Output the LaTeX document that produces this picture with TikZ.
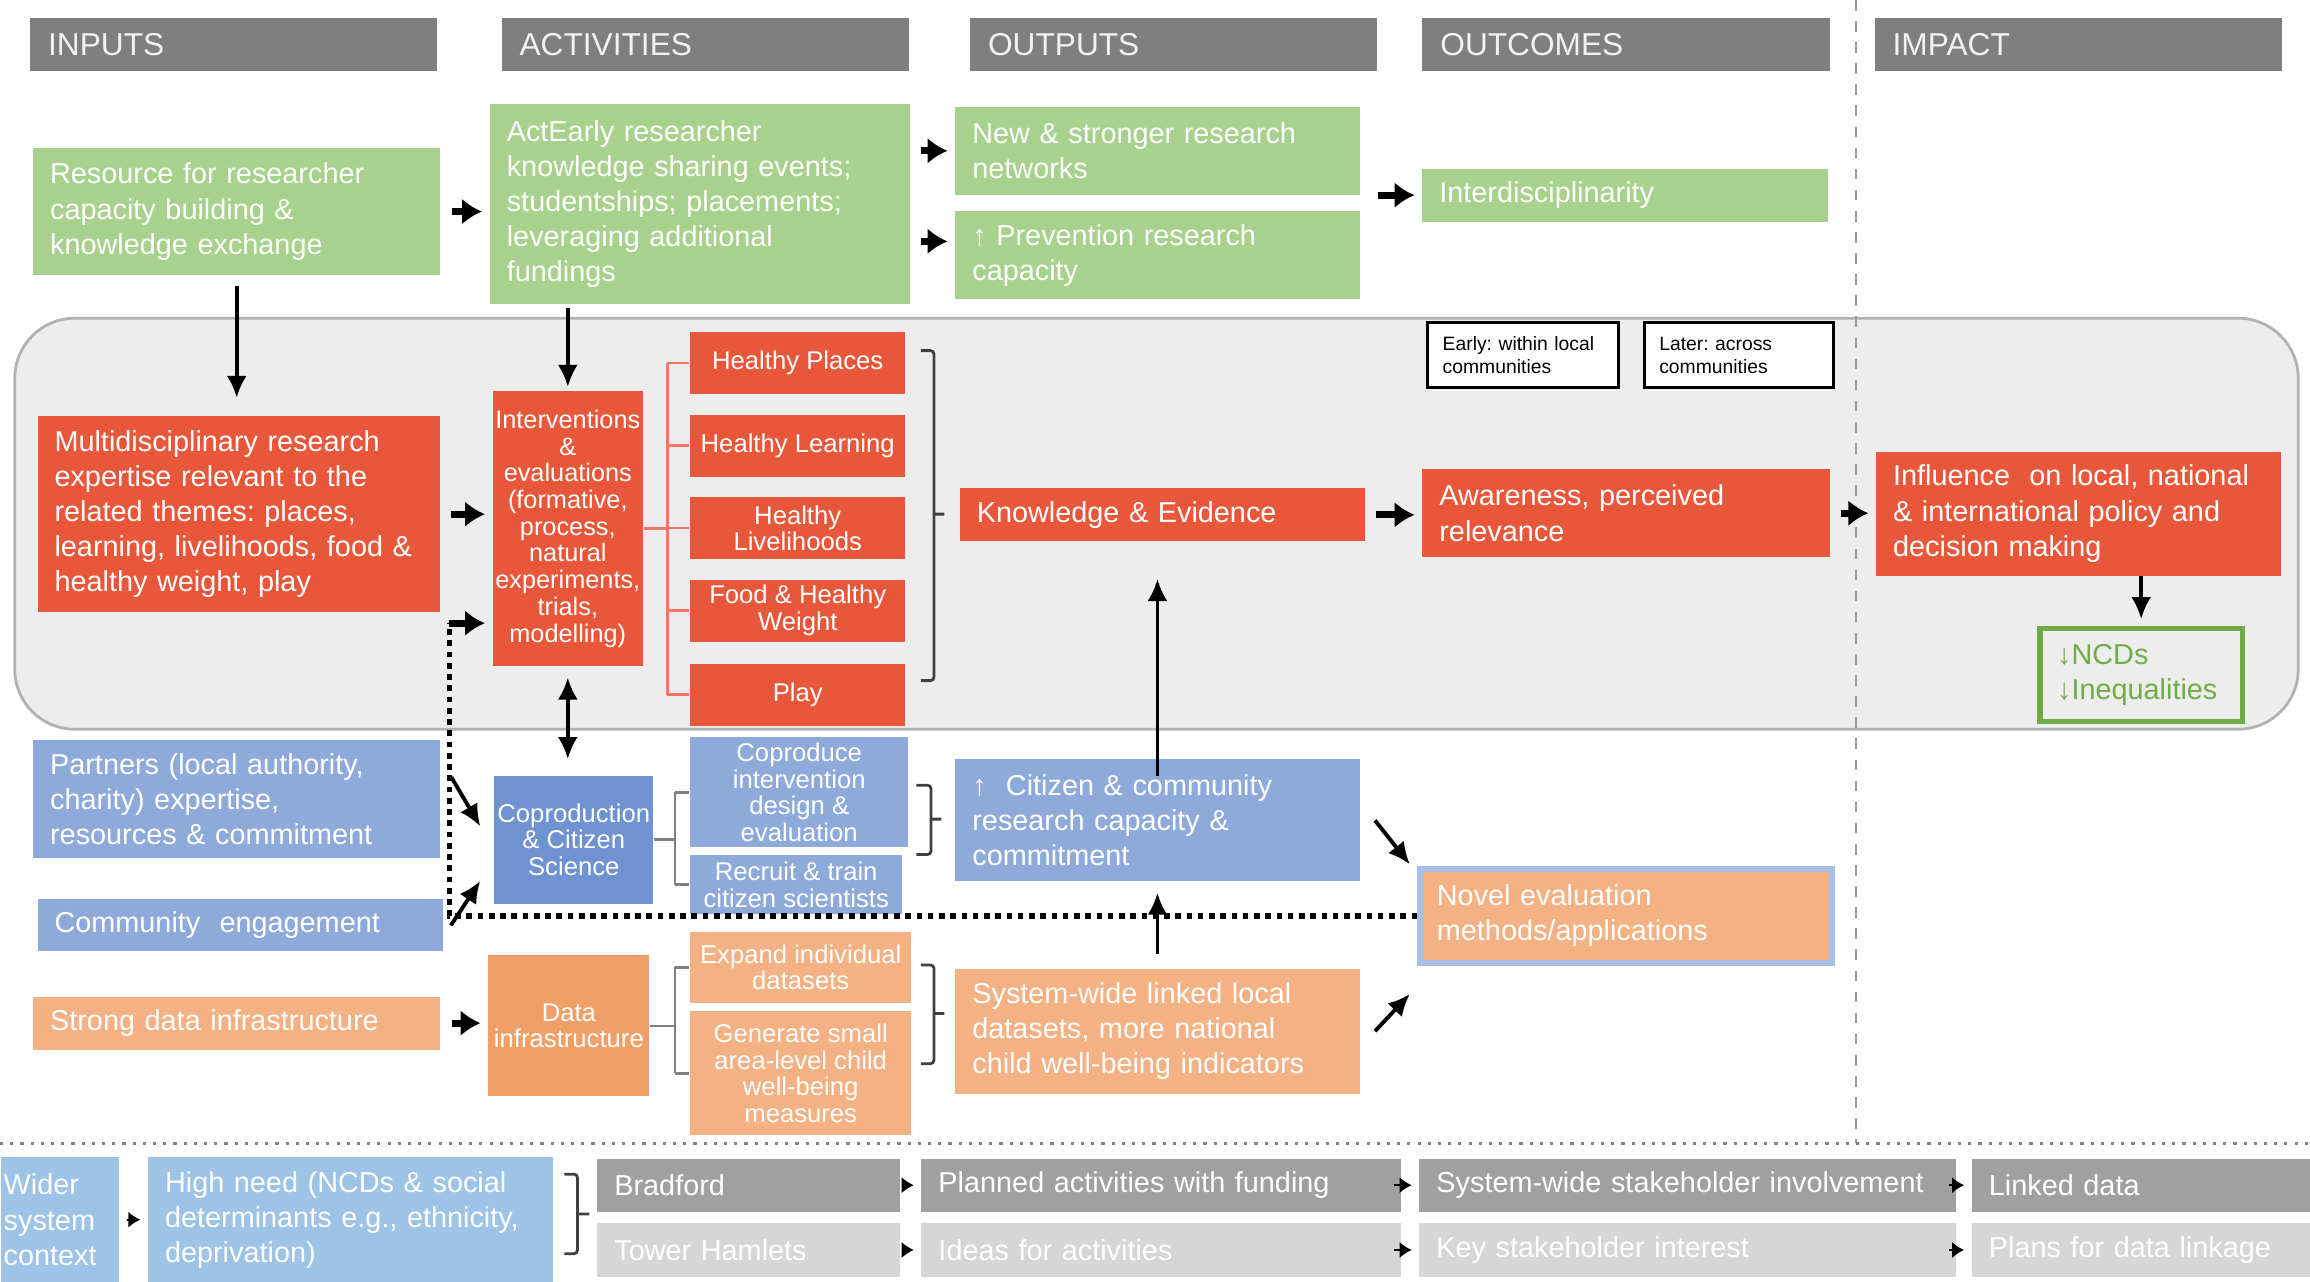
\documentclass[tikz,border=0pt]{standalone}
\usepackage{fontspec}
\setmainfont{Liberation Sans}
\usepackage{tikz}
\usetikzlibrary{arrows.meta}
\usepackage{xcolor}

\definecolor{hdrgray}{HTML}{7F7F7F}
\definecolor{grnfill}{HTML}{A9D18E}
\definecolor{redfill}{HTML}{E9573A}
\definecolor{bluefill}{HTML}{8EAADB}
\definecolor{copfill}{HTML}{6F93D1}
\definecolor{orgfill}{HTML}{F4B183}
\definecolor{datfill}{HTML}{F0A066}
\definecolor{ctxfill}{HTML}{9DC3E6}
\definecolor{darkrow}{HTML}{A0A0A0}
\definecolor{lightrow}{HTML}{D6D6D6}
\definecolor{regfill}{HTML}{EDEDED}
\definecolor{ncdgreen}{HTML}{70AD47}
\definecolor{novelblue}{HTML}{A9C0E6}

\frenchspacing

\begin{document}
\begin{tikzpicture}[x=0.01473cm, y=-0.01473cm,
box/.style={anchor=north west, inner xsep=0.17cm, inner ysep=0pt, text=white, align=left, font=\fontsize{8.2}{10}\selectfont},
cbox/.style={anchor=north west, inner sep=0pt, text=white, align=center, font=\fontsize{7.3}{7.6}\selectfont},
hdr/.style={box, fill=hdrgray, inner xsep=0.18cm, text=white!95!black, minimum height=0.53cm, text width=3.71cm, font=\fontsize{9}{10}\selectfont},
grn/.style={box, fill=grnfill},
red/.style={box, fill=redfill},
redc/.style={cbox, fill=redfill},
blu/.style={box, fill=bluefill},
bluc/.style={cbox, fill=bluefill},
org/.style={box, fill=orgfill},
orgc/.style={cbox, fill=orgfill},
note/.style={anchor=north west, draw=black, line width=0.9pt, fill=white, text=black, align=left, inner xsep=0.15cm, inner ysep=0pt, font=\fontsize{5.5}{6.5}\selectfont},
arr/.style={-{Latex[length=2.2mm,width=2mm]}, line width=1.1pt},
sarr/.style={-{Latex[length=2mm,width=2.6mm]}, line width=2pt, shorten <=3pt, shorten >=2pt},
tarr/.style={-{Latex[length=1.2mm,width=1.6mm]}, line width=0.5pt, shorten <=2pt, shorten >=2pt},
brk/.style={line width=0.7pt, draw=gray},
redbrk/.style={line width=0.7pt, draw=redfill!80!white},
brc/.style={line width=0.8pt, draw=black!75, rounded corners=1pt},
dotln/.style={line width=1.6pt, dash pattern=on 1.6pt off 1.6pt}]

\useasboundingbox (0,0) rectangle (1568,870);

\draw[fill=regfill, draw=gray!60, line width=0.8pt, rounded corners=0.6cm] (10,216) rectangle (1560,495);

\draw[gray!80, dashed, line width=0.6pt] (1260,0) -- (1260,776);

\draw[gray, dotted, line width=0.9pt] (0,776) -- (1568,776);

\node[hdr] (hin) at (20,12) {INPUTS};
\node[hdr] (hact) at (340,12) {ACTIVITIES};
\node[hdr] (hout) at (658,12) {OUTPUTS};
\node[hdr] (hoc) at (965,12) {OUTCOMES};
\node[hdr] (himp) at (1272,12) {IMPACT};

\node[grn] (res) at (22,100) [text width=3.73cm, minimum height=1.27cm] {Resource for researcher\\capacity building \&\\knowledge exchange};
\node[grn] (act) at (332,70) [text width=3.86cm, minimum height=2cm] {ActEarly researcher\\knowledge sharing events;\\studentships; placements;\\leveraging additional\\fundings};
\node[grn] (new) at (648,72) [text width=3.7cm, minimum height=0.88cm] {New \& stronger research\\networks};
\node[grn] (prev) at (648,143) [text width=3.7cm, minimum height=0.88cm] {↑ Prevention research\\capacity};
\node[grn] (intd) at (965,114) [text width=3.71cm, minimum height=0.53cm] {Interdisciplinarity};

\node[red] (multi) at (25,282) [text width=3.68cm, minimum height=1.96cm] {Multidisciplinary research\\expertise relevant to the\\related themes: places,\\learning, livelihoods, food \&\\healthy weight, play};
\node[redc] (intv) at (334,265) [minimum width=1.5cm, minimum height=2.75cm, font=\fontsize{7.2}{7.6}\selectfont] {Interventions\\\&\\evaluations\\(formative,\\process,\\natural\\experiments,\\trials,\\modelling)};
\node[redc] (hp) at (468,225) [minimum width=2.15cm, minimum height=0.62cm] {Healthy Places};
\node[redc] (hl) at (468,281) [minimum width=2.15cm, minimum height=0.62cm] {Healthy Learning};
\node[redc] (hlv) at (468,337) [minimum width=2.15cm, minimum height=0.62cm] {Healthy\\Livelihoods};
\node[redc] (fhw) at (468,393) [minimum width=2.15cm, minimum height=0.62cm] {Food \& Healthy\\Weight};
\node[redc] (pl) at (468,450) [minimum width=2.15cm, minimum height=0.62cm] {Play};
\node[red] (know) at (651,331) [text width=3.71cm, minimum height=0.53cm] {Knowledge \& Evidence};
\node[red] (aware) at (965,318) [text width=3.73cm, minimum height=0.88cm] {Awareness, perceived\\relevance};
\node[red] (infl) at (1273,306) [text width=3.71cm, minimum height=1.24cm] {Influence\ \ on local, national\\\& international policy and\\decision making};

\node[note] (early) at (968,218) [text width=1.61cm, minimum height=0.65cm] {Early: within local\\communities};
\node[note] (later) at (1115,218) [text width=1.59cm, minimum height=0.65cm] {Later: across\\communities};

\node[box] (ncds) at (1383,425) [draw=ncdgreen, line width=1.5pt, fill=regfill, text=ncdgreen, text width=1.68cm, minimum height=0.93cm] {↓NCDs\\↓Inequalities};

\node[blu] (partners) at (22,502) [text width=3.73cm, minimum height=1.18cm] {Partners (local authority,\\charity) expertise,\\resources \& commitment};
\node[blu] (comm) at (25,610) [text width=3.71cm, minimum height=0.52cm] {Community\ \ engagement};
\node[cbox] (copro) at (335,526) [fill=copfill, minimum width=1.59cm, minimum height=1.28cm] {Coproduction\\\& Citizen\\Science};
\node[bluc] (coprod) at (468,500) [minimum width=2.18cm, minimum height=1.1cm] {Coproduce\\intervention\\design \&\\evaluation};
\node[bluc] (recruit) at (468,580) [minimum width=2.12cm, minimum height=0.59cm] {Recruit \& train\\citizen scientists};
\node[blu] (cit) at (648,515) [text width=3.7cm, minimum height=1.22cm] {↑\ \ Citizen \& community\\research capacity \&\\commitment};
\node[org] (novel) at (962,588) [draw=novelblue, line width=1.5pt, text width=3.78cm, minimum height=0.94cm] {Novel evaluation\\methods/applications};

\node[org] (strong) at (22,676) [text width=3.73cm, minimum height=0.53cm] {Strong data infrastructure};
\node[cbox] (data) at (331,648) [fill=datfill, minimum width=1.61cm, minimum height=1.41cm] {Data\\infrastructure};
\node[orgc] (expand) at (468,632) [minimum width=2.21cm, minimum height=0.71cm] {Expand individual\\datasets};
\node[orgc] (gen) at (468,686) [minimum width=2.21cm, minimum height=1.24cm] {Generate small\\area-level child\\well-being\\measures};
\node[org] (sys) at (648,657) [text width=3.7cm, minimum height=1.25cm] {System-wide linked local\\datasets, more national\\child well-being indicators};

\node[box] (wider) at (0,785) [fill=ctxfill, inner xsep=0.03cm, text width=1.12cm, minimum height=1.25cm] {Wider\\system\\context};
\node[box] (high) at (100,785) [fill=ctxfill, text width=3.71cm, minimum height=1.25cm] {High need (NCDs \& social\\determinants e.g., ethnicity,\\deprivation)};
\node[box] (brad) at (405,786) [fill=darkrow, text width=2.68cm, minimum height=0.53cm] {Bradford};
\node[box] (tower) at (405,830) [fill=lightrow, text width=2.68cm, minimum height=0.53cm] {Tower Hamlets};
\node[box] (plan) at (625,786) [fill=darkrow, text width=4.45cm, minimum height=0.53cm] {Planned activities with funding};
\node[box] (idea) at (625,830) [fill=lightrow, text width=4.45cm, minimum height=0.53cm] {Ideas for activities};
\node[box] (sws) at (963,786) [fill=darkrow, text width=5.02cm, minimum height=0.53cm] {\mbox{System-wide stakeholder involvement}};
\node[box] (key) at (963,830) [fill=lightrow, text width=5.02cm, minimum height=0.53cm] {Key stakeholder interest};
\node[box] (linked) at (1338,786) [fill=darkrow, text width=3.05cm, minimum height=0.53cm] {Linked data};
\node[box] (plans) at (1338,830) [fill=lightrow, text width=3.05cm, minimum height=0.53cm] {Plans for data linkage};

\coordinate (tb) at (453,0);
\coordinate (cb) at (458,0);
\coordinate (dt) at (305,423);

\draw[redbrk] (intv.east) -- (intv.east -| tb);
\draw[redbrk] (hp.west -| tb) -- (pl.west -| tb);
\foreach \t in {hp,hl,hlv,fhw,pl} \draw[redbrk] (\t.west -| tb) -- (\t.west);

\draw[brk] (copro.east) -- (copro.east -| cb);
\draw[brk] (coprod.west -| cb) -- (recruit.west -| cb);
\foreach \t in {coprod,recruit} \draw[brk] (\t.west -| cb) -- (\t.west);

\draw[brk] (data.east) -- (data.east -| cb);
\draw[brk] (expand.west -| cb) -- (gen.west -| cb);
\foreach \t in {expand,gen} \draw[brk] (\t.west -| cb) -- (\t.west);

\draw[brc] (625,238) -- (634,238) -- (634,462) -- (625,462) (634,349) -- (641,349);
\draw[brc] (622,533) -- (632,533) -- (632,580) -- (622,580) (632,556) -- (639,556);
\draw[brc] (625,655) -- (634,655) -- (634,722) -- (625,722) (634,688) -- (641,688);
\draw[brc] (383,797) -- (392,797) -- (392,851) -- (383,851) (392,824) -- (400,824);

\draw[sarr] (res.east) -- (res.east -| act.west);
\draw[sarr] (act.east |- new.west) -- (new.west);
\draw[sarr] ([yshift=4pt]act.east |- prev.west) -- ([yshift=4pt]prev.west);
\draw[sarr, shorten <=5pt] (new.east |- intd.west) -- (intd.west);
\draw[arr, shorten <=3pt, shorten >=5pt] (res.south) -- (res.south |- multi.north);
\draw[arr, shorten <=1pt, shorten >=1pt] (intv.north |- act.south) -- (intv.north);
\draw[sarr] (multi.east) -- (multi.east -| intv.west);
\draw[{Latex[length=2.2mm,width=2mm]}-{Latex[length=2.2mm,width=2mm]}, line width=1.1pt, shorten <=3pt, shorten >=4.5pt] (intv.south) -- (intv.south |- copro.north);
\draw[sarr] (know.east) -- (know.east -| aware.west);
\draw[sarr] (aware.east) -- (aware.east -| infl.west);
\draw[arr, shorten >=2pt] (ncds.north |- infl.south) -- (ncds.north);
\draw[arr, shorten <=-5pt, shorten >=10.5pt] (cit.north) -- (cit.north |- know.south);
\draw[arr, shorten <=4pt, shorten >=3pt] (sys.north) -- (sys.north |- cit.south);

\draw[arr] ([shift={(7,-15)}]partners.east) -- ([shift={(-9,-9)}]copro.west);
\draw[arr] ([shift={(5,0)}]comm.east) -- ([shift={(-9,28)}]copro.west);
\draw[arr] ([shift={(10,0)}]cit.east) -- ([shift={(-5,-35)}]novel.west);
\draw[arr] ([shift={(10,0)}]sys.east) -- ([shift={(-5,53)}]novel.west);
\draw[sarr] (strong.east) -- (strong.east -| data.west);

\draw[dotln] (novel.west) -| (dt);
\draw[sarr, shorten <=0pt] (dt) -- (dt -| intv.west);

\draw[tarr] (wider.east) -- (wider.east -| high.west);
\draw[tarr] (brad.east) -- (brad.east -| plan.west);
\draw[tarr] (tower.east) -- (tower.east -| idea.west);
\draw[tarr] (plan.east) -- (plan.east -| sws.west);
\draw[tarr] (idea.east) -- (idea.east -| key.west);
\draw[tarr] (sws.east) -- (sws.east -| linked.west);
\draw[tarr] (key.east) -- (key.east -| plans.west);

\end{tikzpicture}
\end{document}
